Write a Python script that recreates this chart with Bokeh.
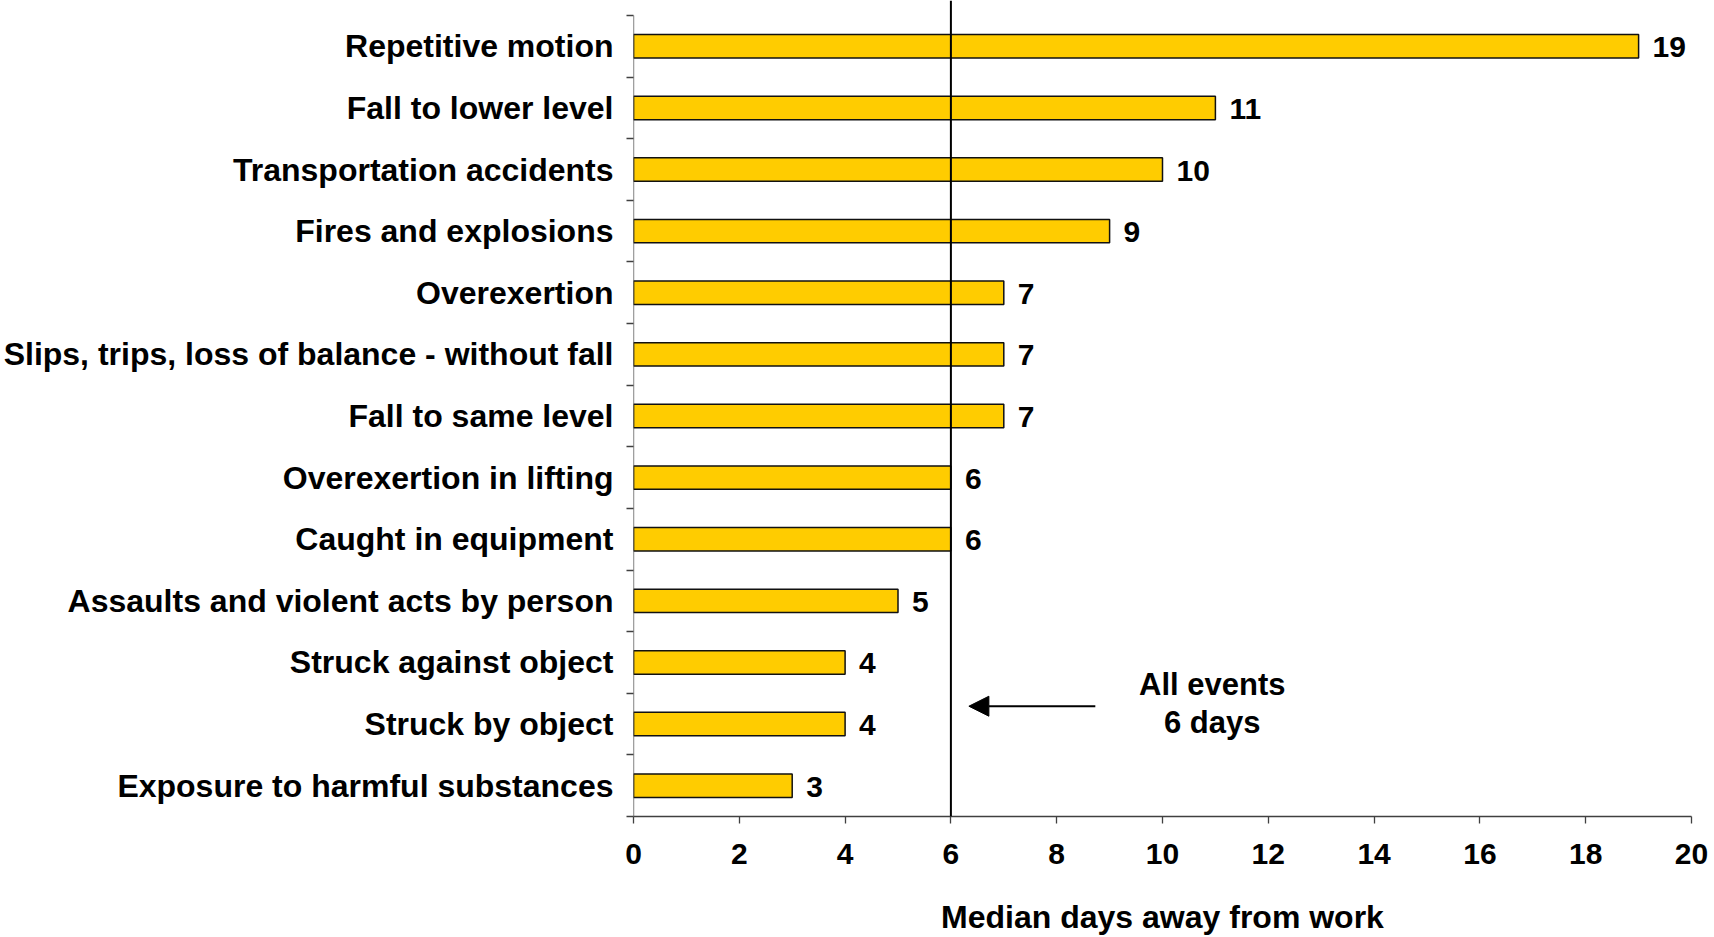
from bokeh.plotting import figure
from bokeh.models import Range1d, FixedTicker, ColumnDataSource, Span, Arrow, NormalHead
from bokeh.core.properties import value
from bokeh.embed import file_html
from bokeh.resources import INLINE

categories = [
    "Repetitive motion",
    "Fall to lower level",
    "Transportation accidents",
    "Fires and explosions",
    "Overexertion",
    "Slips, trips, loss of balance - without fall",
    "Fall to same level",
    "Overexertion in lifting",
    "Caught in equipment",
    "Assaults and violent acts by person",
    "Struck against object",
    "Struck by object",
    "Exposure to harmful substances",
]
days = [19, 11, 10, 9, 7, 7, 7, 6, 6, 5, 4, 4, 3]
x_ticks = [0, 2, 4, 6, 8, 10, 12, 14, 16, 18, 20]
all_events_days = 6
annotation_lines = ["All events", "6 days"]
axis_title = "Median days away from work"

FONT = "Liberation Sans"
n = len(categories)
ypos = [n - 1 - i for i in range(n)]
src = ColumnDataSource(dict(y=ypos, days=days, label=[str(d) for d in days]))

p = figure(width=1714, height=937, output_backend="svg", toolbar_location=None,
           x_range=Range1d(x_ticks[0], x_ticks[-1]),
           y_range=Range1d(-0.5, n - 0.5 + 0.2435),
           min_border_left=633, min_border_right=23, min_border_top=0, min_border_bottom=121)
p.outline_line_color = None
p.xgrid.visible = False
p.ygrid.visible = False
p.background_fill_color = "white"
p.border_fill_color = "white"

# bars
p.hbar(y="y", right="days", left=0, height=0.38, source=src,
       fill_color="#FFCC00", line_color="#111111", line_width=1.5)

# value labels
p.text(x="days", y="y", text="label", source=src, x_offset=14, y_offset=1,
       text_align="left", text_baseline="middle",
       text_font=value(FONT), text_font_size="30px", text_font_style="bold",
       text_color="black")

# y axis
ya = p.yaxis[0]
ya.ticker = FixedTicker(ticks=ypos, minor_ticks=[k - 0.5 for k in range(n + 1)])
ya.major_label_overrides = {y: c for y, c in zip(ypos, categories)}
ya.major_label_text_font = FONT
ya.major_label_text_font_size = "32px"
ya.major_label_text_font_style = "bold"
ya.major_label_text_color = "black"
ya.major_label_standoff = 13
ya.major_tick_out = 0
ya.major_tick_in = 0
ya.minor_tick_out = 7
ya.minor_tick_in = 0
ya.minor_tick_line_color = "#404040"
ya.minor_tick_line_width = 1.3
ya.axis_line_color = None
p.segment(x0=[0], y0=[-0.5], x1=[0], y1=[n - 0.5], line_color="#404040", line_width=1.3)

# x axis
xa = p.xaxis[0]
xa.ticker = FixedTicker(ticks=x_ticks, minor_ticks=[])
xa.major_label_text_font = FONT
xa.major_label_text_font_size = "30px"
xa.major_label_text_font_style = "bold"
xa.major_label_text_color = "black"
xa.major_label_standoff = 20
xa.major_tick_out = 7
xa.major_tick_in = 0
xa.major_tick_line_color = "#404040"
xa.major_tick_line_width = 1.3
xa.minor_tick_line_color = None
xa.axis_line_color = "#404040"
xa.axis_line_width = 1.3
xa.axis_label = axis_title
xa.axis_label_text_font = FONT
xa.axis_label_text_font_size = "32px"
xa.axis_label_text_font_style = "bold"
xa.axis_label_text_color = "black"
xa.axis_label_standoff = 32

# all-events reference line
p.add_layout(Span(location=all_events_days, dimension="height",
                  line_color="black", line_width=2))

# annotation arrow and text
p.add_layout(Arrow(x_start=8.73, y_start=1.29, x_end=6.34, y_end=1.29,
                   line_color="black", line_width=2,
                   end=NormalHead(size=20, fill_color="black", line_color="black")))
p.text(x=[10.94, 10.94], y=[1.642, 1.018], text=annotation_lines,
       text_align="center", text_baseline="middle",
       text_font=value(FONT), text_font_size="31px", text_font_style="bold",
       text_color="black")

open("out.html", "w").write(file_html(p, INLINE))
